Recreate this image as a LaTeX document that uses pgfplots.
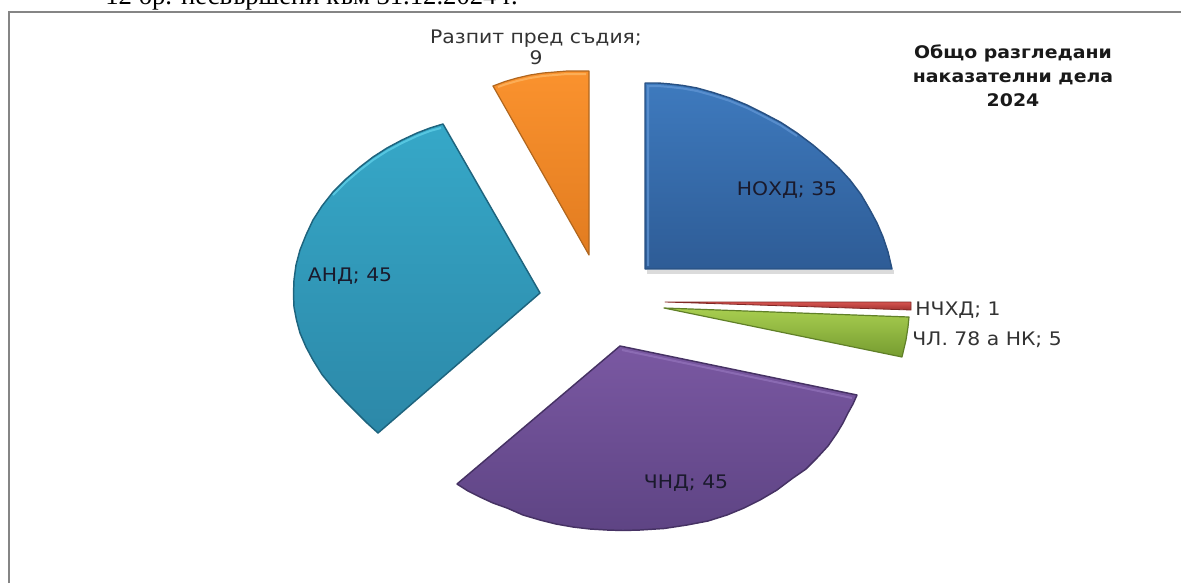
\documentclass[border=0pt]{standalone}
\usepackage{pgfplots}
\pgfplotsset{compat=1.18}
\usepackage{fontspec}
\setmainfont{DejaVu Sans}
\newfontfamily\wide[FakeStretch=1.09]{DejaVu Sans}
\newfontfamily\serifcyr{Liberation Serif}
\definecolor{frameg}{HTML}{858585}
\definecolor{txt}{HTML}{1A1A2C}
\definecolor{nohdtop}{RGB}{62,122,190}
\definecolor{nohdbot}{RGB}{46,92,150}
\definecolor{nohdedge}{RGB}{40,80,130}
\definecolor{nohdhi}{RGB}{100,152,214}
\definecolor{redtop}{RGB}{214,84,80}
\definecolor{redbot}{RGB}{160,50,48}
\definecolor{rededge}{RGB}{128,40,38}
\definecolor{greentop}{RGB}{168,206,80}
\definecolor{greenbot}{RGB}{118,156,48}
\definecolor{greenedge}{RGB}{96,128,40}
\definecolor{purtop}{RGB}{122,88,162}
\definecolor{purbot}{RGB}{94,68,132}
\definecolor{puredge}{RGB}{70,50,100}
\definecolor{purhi}{RGB}{150,118,190}
\definecolor{tealtop}{RGB}{54,168,200}
\definecolor{tealbot}{RGB}{44,136,168}
\definecolor{tealedge}{RGB}{30,100,126}
\definecolor{tealhi}{RGB}{100,212,236}
\definecolor{oratop}{RGB}{250,146,46}
\definecolor{orabot}{RGB}{226,124,32}
\definecolor{oraedge}{RGB}{176,102,30}
\definecolor{orahi}{RGB}{254,186,104}
\begin{document}
\begin{tikzpicture}
\path[use as bounding box,clip] (0,0) rectangle (885.75pt,437.25pt);
\begin{axis}[at={(0,0)},anchor=south west,scale only axis,width=885.75pt,height=437.25pt,
  xmin=0,xmax=1181,ymin=0,ymax=583,y dir=reverse,hide axis,clip=false]
% frame
\addplot[draw=frameg,line width=1.9pt] coordinates {(9,583)(9,12)(1181,12)};
% soft shadow under the lowest edge of the first slice
\addplot[draw=black,draw opacity=0.14,line width=2.5pt] coordinates {(647,272)(894,272)};
% NOHD 35
\addplot[draw=nohdedge,line width=1.1pt,line join=round,top color=nohdtop,bottom color=nohdbot] coordinates {(645,83)(658,83)(670,84)(683,85.5)(697,88)(713,92.5)(730,98)(747,105)(763,113)(781,122.5)(797,133)(813,145)(827,157)(839,168)(850,180)(861,194.5)(870,210)(877,223)(883,237)(888,252)(892,269)(645,269)} -- cycle;
\addplot[draw=nohdhi,line width=1.5pt,opacity=0.7] coordinates {(648,266)(648,86)(658,86)(670,87)(683,88.5)(697,91)(713,95.5)(730,101)(747,108)(763,116)(781,125.5)(797,136)};
% NCHD 1
\addplot[draw=rededge,line width=0.6pt,line join=round,top color=redtop,bottom color=redbot] coordinates {(665,302)(911,302)(911,310)} -- cycle;
% Ch.78 5
\addplot[draw=greenedge,line width=0.9pt,line join=round,top color=greentop,bottom color=greenbot] coordinates {(664,308)(909,317)(908,327)(906,340)(902,357)} -- cycle;
% ChND 45
\addplot[draw=puredge,line width=1.1pt,line join=round,top color=purtop,bottom color=purbot] coordinates {(620,346)(857,395)(853,404)(848,413)(843,423)(837,433)(828,446)(817,458)(806,469)(793,478)(777,490)(760,500)(744,508)(727,515)(708,521)(687,525)(664,528.5)(640,530)(623,530.5)(607,530)(590,529)(573,527)(556,524)(540,520)(523,515)(507,508)(493,503)(480,497)(468,491)(457,484)} -- cycle;
\addplot[draw=purhi,line width=1.5pt,opacity=0.65] coordinates {(622,350)(852,398)};
% AND 45
\addplot[draw=tealedge,line width=1.1pt,line join=round,top color=tealtop,bottom color=tealbot] coordinates {(540,293)(443,124)(430,128)(417,133)(402,140)(387,148)(373,157)(360,167)(346,179)(333,192)(322,206)(313,220)(306,235)(300,250)(296,265)(294,280)(293.5,294)(294,307)(296.5,320)(300,333)(306,347)(313,360)(322,374.5)(333,388)(345,401)(357,413)(367,423)(378,433)} -- cycle;
\addplot[draw=tealhi,line width=1.5pt,opacity=0.7] coordinates {(441,128)(430,131)(417,136)(402,143)(387,151)(373,160)(360,170)(346,182)(333,195)};
% Razpit 9
\addplot[draw=oraedge,line width=0.9pt,line join=round,top color=oratop,bottom color=orabot] coordinates {(589,255)(589,71)(578,71)(567,71)(555,72)(543,73)(530,75)(517,78)(505,81.5)(493,86)} -- cycle;
\addplot[draw=orahi,line width=1.5pt,opacity=0.7] coordinates {(586,74)(578,74)(567,74)(555,75)(543,76)(530,78)(517,81)(505,84.5)(498,87)};
% labels
\node[font=\wide\fontsize{14pt}{15pt}\selectfont,text=txt] at (axis cs:787,190) {НОХД; 35};
\node[font=\wide\fontsize{14pt}{15pt}\selectfont,text=txt] at (axis cs:350,276) {АНД; 45};
\node[font=\wide\fontsize{14pt}{15pt}\selectfont,text=txt] at (axis cs:686,483) {ЧНД; 45};
\node[font=\wide\fontsize{14pt}{15pt}\selectfont,text=black!80,anchor=west,inner sep=0pt] at (axis cs:915,310) {НЧХД; 1};
\node[font=\wide\fontsize{14pt}{15pt}\selectfont,text=black!80,anchor=west,inner sep=0pt] at (axis cs:912,340) {ЧЛ. 78 а НК; 5};
\node[font=\wide\fontsize{14pt}{16pt}\selectfont,text=black!80,align=center] at (axis cs:536,47) {Разпит пред съдия;\\9};
\node[font=\wide\bfseries\fontsize{13pt}{18pt}\selectfont,text=black!90,align=center] at (axis cs:1013,76) {Общо разгледани\\наказателни дела\\2024};
\node[font=\serifcyr\fontsize{20pt}{24pt}\selectfont,anchor=base west,inner sep=0pt] at (axis cs:105,4.5) {12 бр. несвършени към 31.12.2024 г.};
\end{axis}
\end{tikzpicture}
\end{document}
